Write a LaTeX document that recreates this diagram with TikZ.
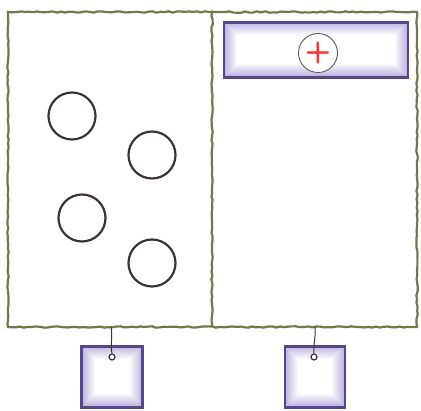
\documentclass[tikz,border=0pt]{standalone}
\usepackage{xcolor}
\usetikzlibrary{decorations.pathmorphing}
\definecolor{framegreen}{HTML}{6F7A4C}
\definecolor{tagedge}{HTML}{56468E}
\definecolor{tagfill}{HTML}{A99CD6}
\definecolor{ringgray}{HTML}{3A3436}

\begin{document}
\begin{tikzpicture}[x=1pt, y=-1pt,
  wob/.style={decorate, decoration={random steps, segment length=4pt, amplitude=0.7pt}},
  wall/.style={draw=framegreen, line width=2.2pt, wob},
  tag/.style={rectangle, inner sep=0pt, fill=white, draw=tagedge, line width=2.2pt,
    path picture={
      \foreach \i in {1,...,12}
        \draw[tagfill!\the\numexpr6*\i\relax, line width=\the\numexpr28-2*\i\relax pt]
          (path picture bounding box.north west)
          rectangle (path picture bounding box.south east);}},
  ring/.style={circle, draw=ringgray, line width=2.2pt, minimum size=47pt, inner sep=0pt},
  hole/.style={circle, draw=ringgray, fill=white, line width=1.2pt, inner sep=0pt, minimum size=6pt},
  cord/.style={draw=ringgray, line width=1pt}]
\useasboundingbox (0,0) rectangle (421,411);
% frame and divider
\coordinate (nw) at (8,12);
\coordinate (se) at (417,327);
\draw[wall] (nw) rectangle (se);
\draw[wall] (212,12) -- (212,327);
% left room
\node[ring] (r1) at (72,116) {};
\node[ring] (r2) at (152,155) {};
\node[ring] (r3) at (82,218) {};
\node[ring] (r4) at (152,263) {};
% right room
\node[tag, minimum width=184pt, minimum height=55pt] (bar) at (316,50) {};
\node[circle, draw=black!65, fill=white, line width=0.9pt, minimum size=39pt, inner sep=0pt]
  (plus) at (318,53) {\sffamily\bfseries\fontsize{30}{30}\selectfont\textcolor{red!80}{+}};
% hanging tags
\node[tag, minimum width=61pt, minimum height=61pt] (tagL) at (112,377) {};
\node[tag, minimum width=60pt, minimum height=61pt] (tagR) at (315,377) {};
\node[hole] (holeL) at (112,357) {};
\node[hole] (holeR) at (314,357) {};
\coordinate (hookL) at (111,327);
\coordinate (hookR) at (315,327);
\draw[cord] (hookL) .. controls (113,337) and (110,345) .. (holeL.north);
\draw[cord] (hookR) .. controls (316,337) and (313,345) .. (holeR.north);
\end{tikzpicture}
\end{document}
